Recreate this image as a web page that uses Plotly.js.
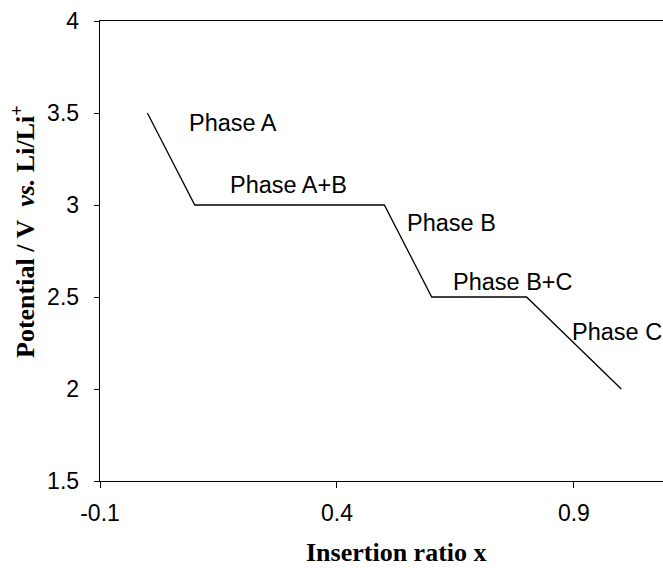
<!DOCTYPE html>
<html>
<head>
<meta charset="utf-8">
<script src="https://cdn.plot.ly/plotly-3.0.1.min.js"></script>
<style>html,body{margin:0;padding:0;background:#fff;}#chart{width:663px;height:568px;}</style>
</head>
<body>
<div id="chart"></div>
<script>
// Data
const insertionRatio = [0, 0.1, 0.5, 0.6, 0.8, 1.0];
const potential = [3.5, 3.0, 3.0, 2.5, 2.5, 2.0];

const phaseLabels = ["Phase A", "Phase A+B", "Phase B", "Phase B+C", "Phase C"];
const phaseLabelX = [0.18, 0.298, 0.642, 0.771, 0.991];
const phaseLabelY = [3.446, 3.109, 2.902, 2.582, 2.31];

const xTickVals = [-0.1, 0.4, 0.9];
const xTickText = ["-0.1", "0.4", "0.9"];
const yTickVals = [1.5, 2, 2.5, 3, 3.5, 4];
const yTickText = ["1.5", "2", "2.5", "3", "3.5", "4"];

const xTitle = "Insertion ratio x";
const yTitle = "Potential / V&nbsp;&nbsp;<i>vs.</i> Li/Li<sup>+</sup>";

const trace = {
  x: insertionRatio,
  y: potential,
  type: "scatter",
  mode: "lines",
  line: {color: "#000", width: 1.3},
  hoverinfo: "skip",
  showlegend: false
};

const sans = "Arial, 'Liberation Sans', sans-serif";
const serif = "'Times New Roman', 'Liberation Serif', serif";

const annotations = phaseLabels.map((t, i) => ({
  x: phaseLabelX[i], y: phaseLabelY[i], xref: "x", yref: "y",
  text: t, showarrow: false,
  font: {family: sans, size: 23.5, color: "#000"},
  xanchor: "center", yanchor: "middle"
}));

// axis titles placed as paper annotations for exact position
annotations.push({
  x: 0.5275, y: -0.156, xref: "paper", yref: "paper", text: "<b>" + xTitle + "</b>",
  showarrow: false,
  font: {family: serif, size: 26, color: "#000"},
  xanchor: "center", yanchor: "middle"
});
annotations.push({
  x: -0.135, y: 0.5435, xref: "paper", yref: "paper", text: "<b>" + yTitle + "</b>",
  textangle: -90, showarrow: false,
  font: {family: serif, size: 26, color: "#000"},
  xanchor: "center", yanchor: "middle"
});

const layout = {
  width: 663, height: 568,
  margin: {l: 100, r: 0, t: 21, b: 87, pad: 0},
  paper_bgcolor: "#fff", plot_bgcolor: "#fff",
  showlegend: false,
  xaxis: {
    range: [-0.1, 1.088],
    tickvals: xTickVals, ticktext: xTickText,
    ticks: "outside", ticklen: 6, tickwidth: 1, tickcolor: "#000",
    showline: true, linecolor: "#000", linewidth: 1.3, mirror: true,
    showgrid: false, zeroline: false,
    ticklabelstandoff: 5,
    tickfont: {family: sans, size: 23, color: "#000"}
  },
  yaxis: {
    range: [1.5, 4],
    tickvals: yTickVals, ticktext: yTickText,
    ticks: "outside", ticklen: 5, tickwidth: 1, tickcolor: "#000",
    showline: true, linecolor: "#000", linewidth: 1.3,
    showgrid: false, zeroline: false,
    ticklabelstandoff: 10,
    tickfont: {family: sans, size: 23, color: "#000"}
  },
  annotations: annotations
};

Plotly.newPlot("chart", [trace], layout, {staticPlot: true, displayModeBar: false});
</script>
</body>
</html>
